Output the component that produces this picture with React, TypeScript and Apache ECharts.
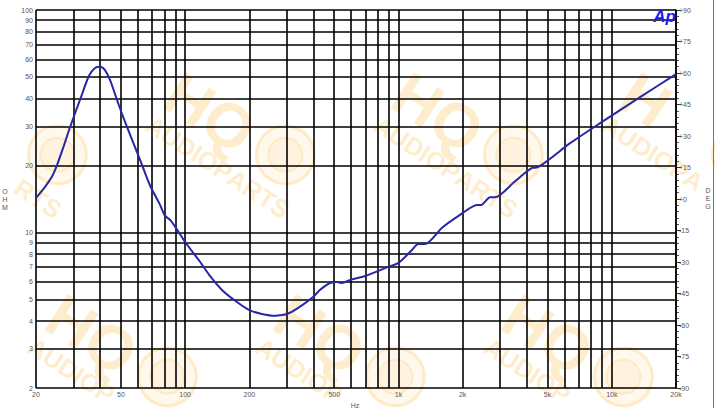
import React, { useEffect, useRef } from "react";
import * as echarts from "echarts";

// Impedance curve (Hz, Ohm)
const freqHz = [20, 22.0, 23.8, 25.1, 26.8, 28.9, 32.5, 35.4, 37.8, 40, 42.1, 44.5, 48.5, 53.4, 61.5, 68.4, 76.3, 80.4, 85.0, 89.9, 100, 117.7, 131, 150.6, 175, 200, 229, 264, 279, 300, 335, 398, 428, 478, 515, 544, 593, 697, 866, 1000, 1158, 1236, 1333, 1601, 1944, 2336, 2440, 2689, 2838, 3500, 4230, 4466, 6376, 8815, 13573, 20000];
const impedanceOhm = [14.3, 16.0, 17.9, 20.1, 24.0, 29.8, 40.6, 50.5, 54.9, 55.6, 53.7, 48.4, 38.2, 29.8, 21.2, 16.3, 13.3, 11.9, 11.4, 10.6, 9.06, 7.37, 6.37, 5.46, 4.87, 4.48, 4.3, 4.22, 4.25, 4.3, 4.55, 5.13, 5.51, 5.93, 5.99, 5.93, 6.12, 6.37, 6.92, 7.3, 8.34, 8.87, 8.87, 10.5, 12.0, 13.3, 13.3, 14.4, 14.4, 16.9, 19.5, 19.6, 25.2, 31.0, 40.6, 51.5];

// Grid lines and tick labels
const freqGridLines = [20, 30, 40, 50, 60, 70, 80, 90, 100, 200, 300, 400, 500, 600, 700, 800, 900, 1000, 2000, 3000, 4000, 5000, 6000, 7000, 8000, 9000, 10000, 20000];
const freqLabelValues = [20, 50, 100, 200, 500, 1000, 2000, 5000, 10000, 20000];
const freqLabelTexts = ["20", "50", "100", "200", "500", "1k", "2k", "5k", "10k", "20k"];
const ohmGridLines = [2, 3, 4, 5, 6, 7, 8, 9, 10, 20, 30, 40, 50, 60, 70, 80, 90, 100];
const degMin = -90;
const degMax = 90;
const degStep = 15;

const FONT = "'Liberation Sans', Arial, sans-serif";
const LABEL_COLOR = "#555";

// Watermark (decorative)
const WM_COLOR = "#fcc761";
const WM_ANGLE = (33 * Math.PI) / 180;
const CHAR_EM: Record<string, number> = { A: 0.722, U: 0.722, D: 0.722, I: 0.278, O: 0.778, P: 0.667, R: 0.722, T: 0.611, S: 0.667, H: 0.722, Q: 0.778 };

function letters(word: string, size: number, cx: number, cy: number, ax: number, ay: number) {
  const widths = word.split("").map((c) => (CHAR_EM[c] || 0.7) * size);
  const total = widths.reduce((a, b) => a + b, 0);
  let cur = cx - total / 2;
  const out: any[] = [];
  const cos = Math.cos(WM_ANGLE);
  const sin = Math.sin(WM_ANGLE);
  word.split("").forEach((c, i) => {
    const lx = cur + widths[i] / 2;
    cur += widths[i];
    const gx = ax + lx * cos - cy * sin;
    const gy = ay + lx * sin + cy * cos;
    const m = size * 0.55;
    if (gx - m < 0 || gx + m > 712 || gy - m < 0 || gy + m > 415) return;
    out.push({
      type: "text",
      x: lx,
      y: cy,
      z: -10,
      style: {
        text: c,
        fill: WM_COLOR,
        opacity: 0.32,
        font: `bold ${size}px ${FONT}`,
        textAlign: "center",
        textVerticalAlign: "middle",
        verticalAlign: "middle",
      },
    });
  });
  return out;
}

function watermark(ax: number, ay: number) {
  const children: any[] = [
    {
      type: "circle",
      x: 86,
      y: -6,
      z: -10,
      shape: { r: 29 },
      style: { fill: "rgba(252,199,97,0.12)", stroke: "rgba(252,199,97,0.3)", lineWidth: 3 },
    },
    {
      type: "circle",
      x: 86,
      y: -6,
      z: -10,
      shape: { r: 17 },
      style: { fill: "rgba(252,199,97,0.1)", stroke: "rgba(252,199,97,0.25)", lineWidth: 2 },
    },
    ...letters("HQ", 62, 0, 0, ax, ay),
    ...letters("AUDIOPARTS", 25, 36, 41, ax, ay),
  ];
  return {
    type: "group",
    x: ax,
    y: ay,
    rotation: -WM_ANGLE,
    silent: true,
    z: -10,
    children,
  };
}

export default function App() {
  const ref = useRef<HTMLDivElement>(null);

  useEffect(() => {
    if (!ref.current) return;
    const chart = echarts.init(ref.current, undefined, { renderer: "svg" });

    const curve = freqHz.map((f, i) => [f, impedanceOhm[i]]);

    const vLines = freqGridLines.map((v) => {
      const idx = freqLabelValues.indexOf(v);
      return {
        xAxis: v,
        label: idx >= 0 ? { show: true, formatter: freqLabelTexts[idx] } : { show: false },
      };
    });
    const hLines = ohmGridLines.map((v) => ({
      yAxis: v,
      label: { show: true, formatter: String(v) },
    }));

    const anchors: [number, number][] = [
      [-18, 113],
      [210, 113],
      [438, 113],
      [666, 113],
      [92, 335],
      [320, 335],
      [548, 335],
    ];

    chart.setOption({
      animation: false,
      backgroundColor: "#ffffff",
      grid: { left: 36, right: 39, top: 10, bottom: 27, containLabel: false },
      xAxis: {
        type: "log",
        logBase: 10,
        min: 20,
        max: 20000,
        axisLine: { show: false },
        axisTick: { show: false },
        axisLabel: { show: false },
        splitLine: { show: false },
      },
      yAxis: [
        {
          type: "log",
          logBase: 10,
          min: 2,
          max: 100,
          axisLine: { show: false },
          axisTick: { show: false },
          axisLabel: { show: false },
          splitLine: { show: false },
        },
        {
          type: "value",
          position: "right",
          min: degMin,
          max: degMax,
          interval: degStep,
          axisLine: { show: true, lineStyle: { color: "#000", width: 1.5 } },
          axisTick: { show: true, length: 5, lineStyle: { color: "#333", width: 1 } },
          minorTick: { show: true, splitNumber: 5, length: 3, lineStyle: { color: "#555", width: 1 } },
          splitLine: { show: false },
          axisLabel: {
            margin: 3,
            fontSize: 7,
            color: LABEL_COLOR,
            fontFamily: FONT,
            formatter: (v: number) => (v >= 0 ? "+" + v : String(v)),
          },
        },
      ],
      graphic: [
        ...anchors.map(([x, y]) => watermark(x, y)),
        {
          type: "text",
          x: 676,
          y: 16,
          z: 10,
          style: {
            text: "Ap",
            fill: "#1c1cf0",
            font: `italic bold 17px ${FONT}`,
            textAlign: "right",
            textVerticalAlign: "middle",
            verticalAlign: "middle",
          },
        },
        {
          type: "text",
          x: 355,
          y: 405,
          style: {
            text: "Hz",
            fill: LABEL_COLOR,
            font: `7px ${FONT}`,
            textAlign: "center",
            textVerticalAlign: "middle",
            verticalAlign: "middle",
          },
        },
        {
          type: "text",
          x: 5,
          y: 199,
          style: {
            text: "O\nH\nM",
            fill: LABEL_COLOR,
            font: `7px ${FONT}`,
            lineHeight: 8,
            textAlign: "center",
            textVerticalAlign: "middle",
            verticalAlign: "middle",
          },
        },
        {
          type: "text",
          x: 708,
          y: 198,
          style: {
            text: "D\nE\nG",
            fill: LABEL_COLOR,
            font: `7px ${FONT}`,
            lineHeight: 8,
            textAlign: "center",
            textVerticalAlign: "middle",
            verticalAlign: "middle",
          },
        },
        {
          type: "line",
          shape: { x1: 713.5, y1: 0, x2: 713.5, y2: 408 },
          style: { stroke: "#777", lineWidth: 1 },
        },
      ],
      series: [
        {
          name: "grid",
          type: "line",
          data: [[20, 2]],
          showSymbol: false,
          lineStyle: { width: 0 },
          silent: true,
          z: 1,
          markLine: {
            z: 1,
            silent: true,
            symbol: ["none", "none"],
            animation: false,
            lineStyle: { color: "#000", width: 1.6, type: "solid" },
            label: {
              position: "start",
              distance: 3,
              fontSize: 7,
              color: LABEL_COLOR,
              fontFamily: FONT,
            },
            emphasis: { disabled: true },
            data: [...vLines, ...hLines],
          },
        },
        {
          name: "Impedance",
          type: "line",
          data: curve,
          showSymbol: false,
          smooth: 0.25,
          z: 5,
          lineStyle: { color: "#2626a6", width: 2 },
        },
      ],
    });

    return () => chart.dispose();
  }, []);

  return (
    <div
      ref={ref}
      style={{ position: "fixed", left: 0, top: 0, width: 715, height: 415, background: "#fff" }}
    />
  );
}
